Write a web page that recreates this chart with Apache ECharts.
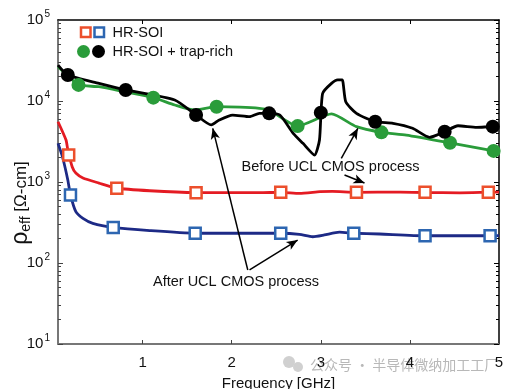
<!DOCTYPE html>
<html>
<head>
<meta charset="utf-8">
<script src="https://cdn.jsdelivr.net/npm/echarts@6/dist/echarts.min.js"></script>
<style>html,body{margin:0;padding:0;background:#fff;}#c{width:523px;height:389px;}</style>
</head>
<body>
<div id="c"></div>
<script>
// ---- data (x: frequency GHz, y: rho_eff Ohm-cm) ----
const xTicks = [1, 2, 3, 4, 5];
const yMajor = [10, 100, 1000, 10000, 100000];
const yMinor = [20,30,40,50,60,70,80,90,200,300,400,500,600,700,800,900,2000,3000,4000,5000,6000,7000,8000,9000,20000,30000,40000,50000,60000,70000,80000,90000];

const redLine = [[0.05,5550],[0.14,3300],[0.16,2500],[0.21,1530],[0.25,1290],[0.33,1120],[0.51,970],[0.7,843],[1.08,780],[1.6,740],[2.31,738],[2.55,746],[2.76,724],[2.99,759],[3.13,767],[3.39,746],[3.89,750],[4.17,742],[4.56,735],[4.87,746],[5.0,750]];
const redMarks = [[0.17,2150],[0.71,836],[1.6,738],[2.55,746],[3.4,746],[4.17,746],[4.88,746]];

const blueLine = [[0.05,3000],[0.1,2050],[0.16,1060],[0.19,692],[0.25,430],[0.33,356],[0.44,309],[0.67,275],[1.08,251],[1.59,233],[2.09,233],[2.31,233],[2.55,233],[2.76,226],[2.91,211],[3.04,222],[3.21,240],[3.37,233],[3.66,228],[4.17,217],[4.56,217],[4.9,217],[5.0,218]];
const blueMarks = [[0.19,692],[0.67,275],[1.59,233],[2.55,233],[3.37,233],[4.17,217],[4.9,217]];

const greenLine = [[0.05,26500],[0.16,20500],[0.28,15800],[0.51,15000],[0.81,12900],[1.12,11000],[1.36,8930],[1.58,7740],[1.83,8500],[2.09,8400],[2.31,8130],[2.42,7740],[2.74,4900],[3.12,6920],[3.4,4820],[3.68,4110],[3.96,3800],[4.45,3050],[4.94,2420],[5.0,2350]];
const greenMarks = [[0.28,15800],[1.12,11000],[1.83,8500],[2.74,4900],[3.68,4100],[4.45,3050],[4.94,2420]];

const blackLine = [[0.05,27800],[0.16,20900],[0.51,16500],[0.81,13700],[1.36,10300],[1.6,6710],[1.77,5060],[1.86,5830],[2.01,6710],[2.2,6400],[2.31,7040],[2.42,7040],[2.54,6710],[2.69,3990],[2.8,3000],[2.93,2150],[2.985,3300],[3.02,12400],[3.12,16500],[3.19,18200],[3.24,18200],[3.28,9800],[3.4,7040],[3.61,5550],[3.81,5300],[4.03,4600],[4.22,3560],[4.39,4180],[4.54,4950],[4.75,4730],[4.93,4820],[5.0,4800]];
const blackMarks = [[0.16,20900],[0.81,13700],[1.6,6710],[2.42,7040],[3.0,7180],[3.61,5550],[4.39,4180],[4.93,4820]];

// annotation arrows: [from, to] in data coords
const afterArrows = [[[2.18,82],[1.787,4600]], [[2.2,82],[2.74,192]]];
const beforeArrows = [[[3.23,1960],[3.416,4600]], [[3.266,1220],[3.49,972]]];

const FONT = 'Liberation Sans, Arial, sans-serif';
const chart = echarts.init(document.getElementById('c'), null, {renderer: 'canvas'});

function lineSeries(data, color, w) {
  return {type:'line', data, xAxisIndex:0, yAxisIndex:0, symbol:'none', smooth:0.2,
    lineStyle:{color, width:w}, silent:true, z:2};
}
function markSeries(data, symbol, size, fill, border, bw) {
  return {type:'scatter', data, xAxisIndex:0, yAxisIndex:0, symbol, symbolSize:size,
    itemStyle:{color:fill, borderColor:border, borderWidth:bw, opacity:1}, silent:true, z:4};
}
const arrowData = afterArrows.concat(beforeArrows).map(a => [{coord:a[0]}, {coord:a[1]}]);

const option = {
  animation:false,
  backgroundColor:'#fff',
  grid:{left:58, right:24, top:20, bottom:45, containLabel:false, outerBoundsMode:'none'},
  xAxis:[
    {type:'value', min:0.05, max:5, position:'bottom',
     axisLine:{show:true, onZero:false, lineStyle:{color:'#777', width:2}},
     axisTick:{show:true, inside:true, length:4, customValues:xTicks, lineStyle:{color:'#444', width:1}},
     axisLabel:{customValues:xTicks, color:'#111', fontSize:15, fontFamily:FONT, margin:11},
     splitLine:{show:false},
     name:'Frequency [GHz]', nameLocation:'middle', nameGap:32,
     nameTextStyle:{color:'#111', fontSize:15, fontFamily:FONT}},
    {type:'value', min:0.05, max:5, position:'top',
     axisLine:{show:true, onZero:false, lineStyle:{color:'#000', width:1.5}},
     axisTick:{show:true, inside:true, length:4, customValues:[1,2,3,4], lineStyle:{color:'#000'}},
     axisLabel:{show:false}, splitLine:{show:false}}
  ],
  yAxis:[
    {type:'log', logBase:10, min:10, max:100000, position:'left',
     axisLine:{show:true, onZero:false, lineStyle:{color:'#777', width:2}},
     axisTick:{show:true, inside:true, length:5, customValues:yMajor, lineStyle:{color:'#444'}},
     axisLabel:{customValues:yMajor, margin:8, fontFamily:FONT,
       formatter:v => '{b|10}{s|' + Math.round(Math.log10(v)) + '}',
       rich:{b:{fontSize:15, color:'#111', fontFamily:FONT},
             s:{fontSize:10, color:'#111', fontFamily:FONT, padding:[0,0,12,1]}}},
     splitLine:{show:false}},
    {type:'log', logBase:10, min:10, max:100000, position:'left',
     axisLine:{show:false},
     axisTick:{show:true, inside:true, length:3, customValues:yMinor, lineStyle:{color:'#444'}},
     axisLabel:{show:false}, splitLine:{show:false}},
    {type:'log', logBase:10, min:10, max:100000, position:'right',
     axisLine:{show:true, onZero:false, lineStyle:{color:'#000', width:1.5}},
     axisTick:{show:true, inside:true, length:5, customValues:yMajor, lineStyle:{color:'#000'}},
     axisLabel:{show:false}, splitLine:{show:false}},
    {type:'log', logBase:10, min:10, max:100000, position:'right',
     axisLine:{show:false},
     axisTick:{show:true, inside:true, length:3, customValues:yMinor, lineStyle:{color:'#000'}},
     axisLabel:{show:false}, splitLine:{show:false}}
  ],
  series:[
    lineSeries(redLine, '#e41b23', 2.8),
    lineSeries(blueLine, '#1d2a86', 2.8),
    lineSeries(greenLine, '#2a9c3a', 2.8),
    lineSeries(blackLine, '#000000', 2.8),
    markSeries(redMarks, 'rect', 11, '#ffffff', '#ec4f2c', 2.5),
    markSeries(blueMarks, 'rect', 11, '#ffffff', '#2d66b1', 2.5),
    markSeries(greenMarks, 'circle', 14, '#2a9c3a', '#2a9c3a', 0),
    markSeries(blackMarks, 'circle', 14, '#000000', '#000000', 0),
    {type:'line', data:[], xAxisIndex:0, yAxisIndex:0, silent:true, z:5,
     markLine:{silent:true, symbol:['none','arrow'], symbolSize:[7,11], precision:4,
       label:{show:false}, lineStyle:{color:'#000', width:1.5, type:'solid'},
       emphasis:{disabled:true}, data:arrowData}}
  ],
  graphic:[
    // legend
    {type:'rect', shape:{x:81, y:27.5, width:9.5, height:9.5}, style:{fill:'#fff', stroke:'#ec4f2c', lineWidth:2.5}},
    {type:'rect', shape:{x:94.5, y:27.5, width:9.5, height:9.5}, style:{fill:'#fff', stroke:'#2d66b1', lineWidth:2.5}},
    {type:'text', x:112.5, y:32.5, style:{text:'HR-SOI', fontSize:14.5, fontFamily:FONT, fill:'#111', verticalAlign:'middle'}},
    {type:'circle', shape:{cx:83.5, cy:51.5, r:6.5}, style:{fill:'#2a9c3a'}},
    {type:'circle', shape:{cx:98.5, cy:51.5, r:6.5}, style:{fill:'#000'}},
    {type:'text', x:112.5, y:52, style:{text:'HR-SOI + trap-rich', fontSize:14.5, fontFamily:FONT, fill:'#111', verticalAlign:'middle'}},
    // annotations
    {type:'text', x:241.5, y:167, z:10, style:{text:'Before UCL CMOS process', fontSize:14.5, fontFamily:FONT, fill:'#111', verticalAlign:'middle'}},
    {type:'text', x:153, y:282, z:10, style:{text:'After UCL CMOS process', fontSize:14.5, fontFamily:FONT, fill:'#111', verticalAlign:'middle'}},
    // y axis title
    {type:'text', x:21, y:203, rotation:Math.PI/2, style:{
      text:'{r|ρ}{e|eff}{n| [Ω-cm]}', align:'center', verticalAlign:'middle',
      rich:{r:{fontSize:23, fontFamily:FONT, fill:'#111'},
            e:{fontSize:14, fontFamily:FONT, fill:'#111', padding:[11,0,0,0]},
            n:{fontSize:17, fontFamily:FONT, fill:'#111'}}}},
    // watermark
    {type:'circle', shape:{cx:289, cy:362, r:6}, style:{fill:'#d0d0d0'}},
    {type:'circle', shape:{cx:298, cy:367, r:5}, style:{fill:'#d0d0d0'}},
    {type:'text', x:310, y:365, style:{text:'公众号 · 半导体微纳加工工厂', fontSize:14, fontFamily:'Noto Sans CJK SC', fill:'#b8b8b8', verticalAlign:'middle'}}
  ]
};
chart.setOption(option);
</script>
</body>
</html>
